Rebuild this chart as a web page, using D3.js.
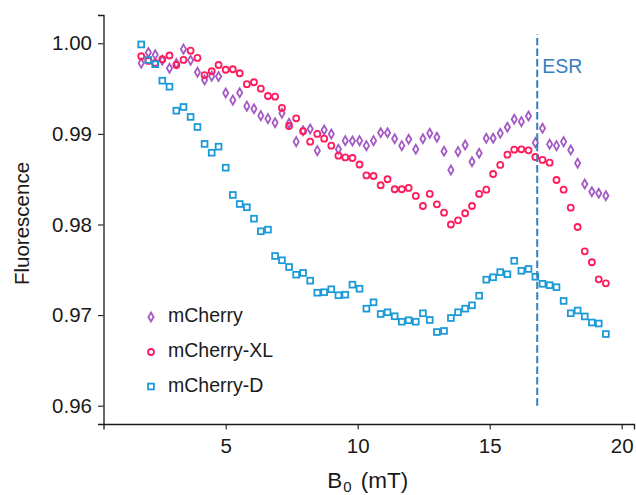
<!DOCTYPE html>
<html>
<head>
<meta charset="utf-8">
<script src="https://cdn.jsdelivr.net/npm/d3@7"></script>
<style>
  html, body { margin: 0; padding: 0; background: #fff; }
  svg { display: block; }
  text { font-family: "Liberation Sans", Arial, sans-serif; fill: #1a1a1a; }
</style>
</head>
<body>
<svg id="chart" width="636" height="495"></svg>
<script>
// Magnetic field sweep (mT)
const fieldB0 = [1.80, 2.07, 2.33, 2.60, 2.87, 3.13, 3.40, 3.67, 3.93, 4.20,
  4.47, 4.73, 5.00, 5.27, 5.53, 5.80, 6.07, 6.33, 6.60, 6.87,
  7.13, 7.40, 7.67, 7.93, 8.20, 8.47, 8.73, 9.00, 9.27, 9.53,
  9.80, 10.07, 10.33, 10.60, 10.87, 11.13, 11.40, 11.67, 11.93, 12.20,
  12.47, 12.73, 13.00, 13.27, 13.53, 13.80, 14.07, 14.33, 14.60, 14.87,
  15.13, 15.40, 15.67, 15.93, 16.20, 16.47, 16.73, 17.00, 17.27, 17.53,
  17.80, 18.07, 18.33, 18.60, 18.87, 19.13, 19.40];

// Normalised fluorescence for each protein
const mCherry = [0.99779, 0.99898, 0.99874, 0.99812, 0.99724, 0.99777, 0.99935, 0.99812, 0.99680, 0.99595,
  0.99637, 0.99634, 0.99451, 0.99372, 0.99454, 0.99306, 0.99278, 0.99201, 0.99168, 0.99123,
  0.99227, 0.99117, 0.98914, 0.99035, 0.99054, 0.98815, 0.99043, 0.98999, 0.98830, 0.98925,
  0.98922, 0.98925, 0.98870, 0.98925, 0.99013, 0.99013, 0.98947, 0.98870, 0.98940, 0.98830,
  0.98947, 0.99007, 0.98962, 0.98808, 0.98602, 0.98804, 0.98877, 0.98693, 0.98786, 0.98951,
  0.98951, 0.99007, 0.99073, 0.99161, 0.99135, 0.99198, 0.98903, 0.99062, 0.98885, 0.98870,
  0.98914, 0.98822, 0.98675, 0.98447, 0.98362, 0.98344, 0.98317];

const mCherryXL = [0.99857, 0.99805, 0.99783, 0.99825, 0.99865, 0.99760, 0.99816, 0.99918, 0.99838, 0.99648,
  0.99691, 0.99760, 0.99708, 0.99713, 0.99669, 0.99549, 0.99570, 0.99499, 0.99418, 0.99411,
  0.99286, 0.99087, 0.99172, 0.99029, 0.98914, 0.98999, 0.98947, 0.98870, 0.98759, 0.98740,
  0.98734, 0.98662, 0.98541, 0.98535, 0.98433, 0.98499, 0.98389, 0.98389, 0.98403, 0.98315,
  0.98204, 0.98337, 0.98223, 0.98130, 0.98000, 0.98046, 0.98124, 0.98204, 0.98337, 0.98384,
  0.98557, 0.98657, 0.98770, 0.98826, 0.98830, 0.98819, 0.98745, 0.98712, 0.98682, 0.98491,
  0.98384, 0.98185, 0.97972, 0.97704, 0.97583, 0.97395, 0.97351];

const mCherryD = [0.99987, 0.99816, 0.99769, 0.99587, 0.99521, 0.99256, 0.99297, 0.99187, 0.99076, 0.98889,
  0.98792, 0.98859, 0.98627, 0.98326, 0.98226, 0.98190, 0.98064, 0.97925, 0.97943, 0.97652,
  0.97605, 0.97531, 0.97446, 0.97465, 0.97380, 0.97247, 0.97252, 0.97285, 0.97219, 0.97225,
  0.97336, 0.97291, 0.97071, 0.97141, 0.97012, 0.97031, 0.96987, 0.96927, 0.96943, 0.96927,
  0.97020, 0.96946, 0.96813, 0.96825, 0.96968, 0.97031, 0.97071, 0.97108, 0.97214, 0.97391,
  0.97417, 0.97474, 0.97451, 0.97599, 0.97489, 0.97509, 0.97423, 0.97345, 0.97330, 0.97308,
  0.97156, 0.97020, 0.97051, 0.96985, 0.96918, 0.96907, 0.96791];

const seriesNames = ["mCherry", "mCherry-XL", "mCherry-D"];
const seriesValues = [mCherry, mCherryXL, mCherryD];
const seriesColors = ["#a459c4", "#ff1c5c", "#1b9ad8"];
const seriesShapes = ["diamond", "circle", "square"];

const xTicks = [5, 10, 15, 20];
const yTicks = [0.96, 0.97, 0.98, 0.99, 1.00];

const esrField = 16.8;
const esrSpan = [0.96, 1.001];

const svg = d3.select("#chart");
const plotLeft = 103.5, plotRight = 634, plotTop = 15, plotBottom = 424;

const x = d3.scaleLinear().domain([0.371, 20.466]).range([plotLeft, plotRight]);
const y = d3.scaleLinear().domain([0.95798, 1.00312]).range([plotBottom, plotTop]);

// Axes
const xAxis = svg.append("g")
  .attr("transform", `translate(0,${plotBottom})`)
  .call(d3.axisBottom(x).tickValues(xTicks).tickSize(5.5).tickPadding(4).tickFormat(d3.format("d")));
const yAxis = svg.append("g")
  .attr("transform", `translate(${plotLeft},0)`)
  .call(d3.axisLeft(y).tickValues(yTicks).tickSize(5.5).tickPadding(6).tickFormat(d3.format(".2f")));

[xAxis, yAxis].forEach(g => {
  g.select(".domain").attr("stroke", "#1a1a1a").attr("stroke-width", 1.3);
  g.selectAll(".tick line").attr("stroke", "#1a1a1a").attr("stroke-width", 1.1);
  g.selectAll(".tick text")
    .attr("fill", "#1a1a1a")
    .style("font-family", "'Liberation Sans', Arial, sans-serif")
    .style("font-size", "20.5px");
});
xAxis.selectAll(".tick text").attr("dy", "0.95em");

// Axis titles
const xTitle = svg.append("text")
  .attr("x", (plotLeft + plotRight) / 2 - 1)
  .attr("y", 488)
  .attr("text-anchor", "middle")
  .style("font-size", "22.5px");
xTitle.append("tspan").text("B");
xTitle.append("tspan").attr("dy", 4).attr("dx", 1).style("font-size", "15px").text("0");
xTitle.append("tspan").attr("dy", -4).attr("dx", 3).text(" (mT)");

svg.append("text")
  .attr("transform", `translate(29,${(plotTop + plotBottom) / 2 + 4}) rotate(-90)`)
  .attr("text-anchor", "middle")
  .style("font-size", "20.5px")
  .text("Fluorescence");

// Marker shapes
function marker(sel, shape, color) {
  if (shape === "circle") {
    sel.append("circle").attr("r", 3)
      .attr("fill", "none").attr("stroke", color).attr("stroke-width", 1.8);
  } else if (shape === "square") {
    sel.append("rect").attr("x", -2.9).attr("y", -2.9).attr("width", 5.8).attr("height", 5.8)
      .attr("fill", "none").attr("stroke", color).attr("stroke-width", 1.8);
  } else {
    sel.append("path").attr("d", "M0,-4.5L2.6,0L0,4.5L-2.6,0Z")
      .attr("fill", "none").attr("stroke", color).attr("stroke-width", 1.8);
  }
}

// Data points
seriesValues.forEach((vals, k) => {
  const g = svg.append("g").attr("class", "series");
  g.selectAll("g.pt")
    .data(vals.map((v, i) => [fieldB0[i], v]))
    .join("g")
    .attr("class", "pt")
    .attr("transform", d => `translate(${x(d[0])},${y(d[1])})`)
    .each(function () { marker(d3.select(this), seriesShapes[k], seriesColors[k]); });
});

// ESR resonance marker
svg.append("line")
  .attr("x1", x(esrField)).attr("x2", x(esrField))
  .attr("y1", y(esrSpan[0])).attr("y2", y(esrSpan[1]))
  .attr("stroke", "#3480bf").attr("stroke-width", 2)
  .attr("stroke-dasharray", "7.4,3.2");
svg.append("text")
  .attr("x", x(esrField) + 5)
  .attr("y", 73)
  .style("font-size", "19.5px")
  .style("fill", "#3480bf")
  .text("ESR");

// Legend
const legend = svg.append("g");
const legendRows = [317, 352, 386.5];
seriesNames.forEach((name, k) => {
  const row = legend.append("g").attr("transform", `translate(151,${legendRows[k]})`);
  marker(row, seriesShapes[k], seriesColors[k]);
  row.append("text").attr("x", 17).attr("y", 5)
    .style("font-size", "19.5px")
    .text(name);
});
</script>
</body>
</html>
